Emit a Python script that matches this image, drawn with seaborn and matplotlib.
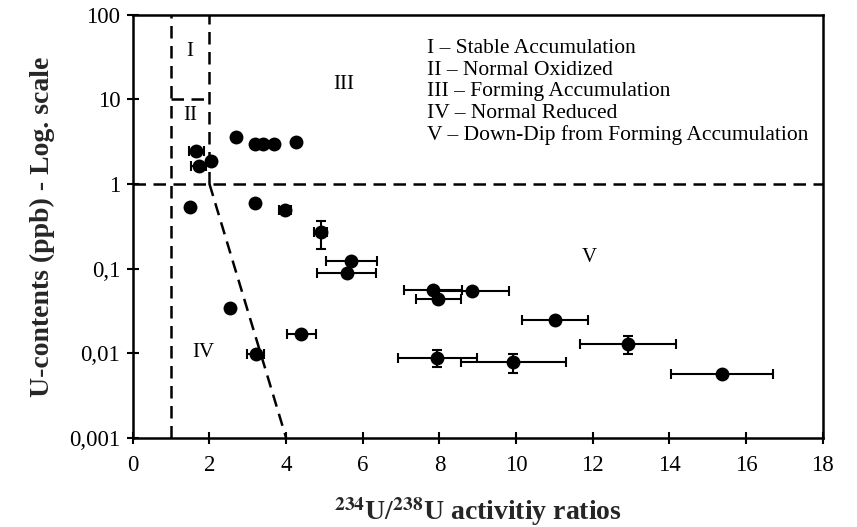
import matplotlib
matplotlib.use("Agg")
import matplotlib.pyplot as plt
import seaborn as sns
import pandas as pd

# ---- data ----
ratio = [1.66, 1.72, 2.05, 2.70, 3.18, 3.40, 3.68, 4.27, 1.50, 3.18, 3.97, 4.90,
         5.70, 5.58, 2.53, 4.40, 3.21, 7.83, 8.84, 7.97, 11.01, 12.92, 7.94, 9.92, 15.38]
ucont = [2.45, 1.64, 1.85, 3.6, 3.0, 3.0, 3.0, 3.1, 0.53, 0.59, 0.49, 0.27,
         0.123, 0.088, 0.034, 0.0171, 0.0097, 0.0557, 0.0552, 0.044, 0.0245, 0.0129, 0.0088, 0.0078, 0.0057]
ratio_err = [0.2, 0.2, 0, 0, 0, 0, 0, 0, 0, 0, 0.15, 0.17,
             0.67, 0.77, 0, 0.38, 0.22, 0.76, 0.98, 0.59, 0.86, 1.26, 1.03, 1.37, 1.33]
ucont_err = [0, 0, 0, 0, 0, 0, 0, 0, 0, 0, 0, 0.1,
             0, 0, 0, 0, 0, 0, 0, 0, 0, 0.003, 0.002, 0.002, 0]

xticks = [0, 2, 4, 6, 8, 10, 12, 14, 16, 18]
yticks = [0.001, 0.01, 0.1, 1, 10, 100]
ytick_labels = ["0,001", "0,01", "0,1", "1", "10", "100"]

zone_labels = ["I", "II", "III", "IV", "V"]
zone_x = [1.49, 1.49, 5.5, 1.83, 11.9]
zone_y = [37, 6.4, 15.2, 0.0102, 0.136]

legend_lines = ["I \u2013 Stable Accumulation",
                "II \u2013 Normal Oxidized",
                "III \u2013 Forming Accumulation",
                "IV \u2013 Normal Reduced",
                "V \u2013 Down-Dip from Forming Accumulation"]

# boundary lines (zone limits)
v1_x, v2_x = 1, 2
h1_y, h10_y = 1, 10
slope_x = [2, 4]
slope_y = [1, 0.001]

df = pd.DataFrame({"ratio": ratio, "u": ucont, "xe": ratio_err, "ye": ucont_err})

sns.set_style("ticks")
plt.rcParams["font.family"] = ["Liberation Serif", "DejaVu Serif"]
plt.rcParams["mathtext.fontset"] = "stix"

fig = plt.figure(figsize=(8.57, 5.27), dpi=100)
ax = fig.add_axes([0.155, 0.169, 0.805, 0.803])
ax.set_yscale("log")
ax.set_xlim(0, 18)
ax.set_ylim(0.001, 100)

dash = dict(color="black", lw=1.8, dashes=(5, 3), zorder=1)
ax.axvline(v1_x, **dash)
ax.axhline(h1_y, **dash)
ax.plot([v2_x, v2_x], [h1_y, 100], **dash)
ax.plot([v1_x, v2_x], [h10_y, h10_y], **dash)
ax.plot(slope_x, slope_y, **dash)

ax.errorbar(df["ratio"], df["u"], xerr=df["xe"], yerr=df["ye"], fmt="none",
            ecolor="black", elinewidth=1.5, capsize=3.5, capthick=1.5, zorder=2)
sns.scatterplot(data=df, x="ratio", y="u", ax=ax, color="black", s=100,
                edgecolor="black", linewidth=0, zorder=3, legend=False)

for lab, zx, zy in zip(zone_labels, zone_x, zone_y):
    ax.text(zx, zy, lab, ha="center", va="center", fontsize=15, color="black")

for i, line in enumerate(legend_lines):
    ax.text(0.426, 0.92 - i * 0.0508, line, transform=ax.transAxes,
            ha="left", va="center", fontsize=15.5, color="black")

ax.set_xticks(xticks)
ax.set_xticklabels([str(t) for t in xticks])
ax.set_yticks(yticks)
ax.set_yticklabels(ytick_labels)
ax.minorticks_off()
ax.tick_params(axis="both", direction="inout", length=8, width=1.5,
               labelsize=16.5, colors="black", pad=5)
ax.tick_params(axis="x", pad=8)

for sp in ax.spines.values():
    sp.set_visible(True)
    sp.set_linewidth(1.8)
    sp.set_color("black")

ax.set_xlabel(r"$^{\mathbf{234}}$U/$^{\mathbf{238}}$U activitiy ratios",
              fontsize=20, fontweight="bold", labelpad=14)
ax.set_ylabel("U-contents (ppb) - Log. scale", fontsize=20,
              fontweight="bold", labelpad=10)

fig.savefig("out.png", dpi=100)
